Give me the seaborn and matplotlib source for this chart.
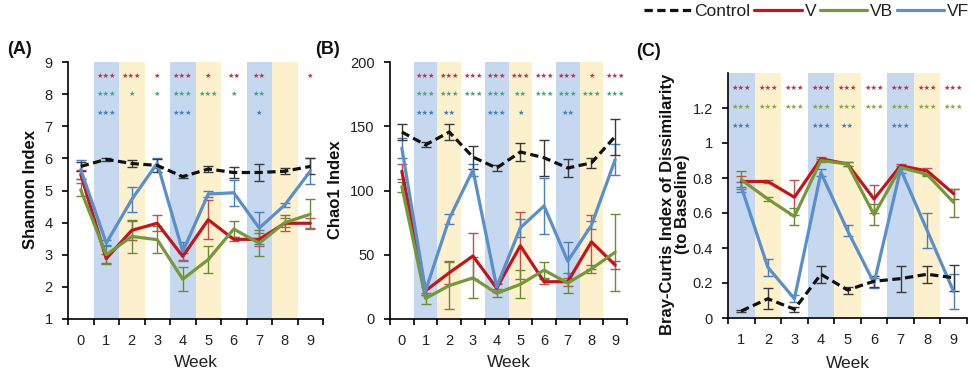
import matplotlib
matplotlib.use("Agg")
import matplotlib.pyplot as plt
from matplotlib.lines import Line2D
import numpy as np
import pandas as pd
import seaborn as sns

# ---------------- data ----------------
weeks_ab = [0, 1, 2, 3, 4, 5, 6, 7, 8, 9]
weeks_c = [1, 2, 3, 4, 5, 6, 7, 8, 9]
series_names = ["Control", "V", "VB", "VF"]

# (A) Shannon index
shannon_control = [5.75, 5.97, 5.84, 5.78, 5.43, 5.67, 5.56, 5.56, 5.60, 5.75]
shannon_control_err = [0.15, 0.05, 0.12, 0.20, 0.05, 0.10, 0.17, 0.25, 0.10, 0.25]
shannon_v = [5.50, 2.88, 3.76, 3.98, 2.95, 4.09, 3.48, 3.48, 3.98, 3.98]
shannon_v_err = [0.15, 0.15, 0.30, 0.25, 0.12, 0.60, 0.06, 0.20, 0.25, 0.15]
shannon_vb = [5.02, 3.00, 3.57, 3.47, 2.24, 2.85, 3.80, 3.36, 4.00, 4.26]
shannon_vb_err = [0.20, 0.30, 0.50, 0.42, 0.38, 0.42, 0.25, 0.40, 0.15, 0.47]
shannon_vf = [5.65, 3.36, 4.72, 5.85, 3.10, 4.89, 4.93, 3.83, 4.55, 5.60]
shannon_vf_err = [0.30, 0.10, 0.40, 0.15, 0.30, 0.10, 0.40, 0.50, 0.05, 0.40]

# (B) Chao1 index
chao_control = [145.5, 135.5, 145.5, 126.0, 117.5, 130.0, 125.5, 117.5, 121.5, 142.0]
chao_control_err = [6, 2, 6, 9, 2, 7, 14, 7, 4, 14]
chao_v = [115, 22, 36, 49, 24, 57, 29, 29, 60, 42]
chao_v_err = [6, 3, 9, 18, 3, 26, 2, 3, 21, 3]
chao_vb = [103, 16, 26, 32, 20, 27, 38, 28, 39, 52]
chao_vb_err = [4, 4, 18, 16, 3, 11, 6, 8, 3, 30]
chao_vf = [133, 22, 78, 116, 25, 71, 88, 45, 73, 124]
chao_vf_err = [8, 3, 4, 5, 3, 7, 22, 15, 3, 12]

# (C) Bray-Curtis dissimilarity to baseline
bc_control = [0.04, 0.11, 0.05, 0.25, 0.16, 0.21, 0.225, 0.25, 0.23]
bc_control_err = [0.005, 0.06, 0.015, 0.05, 0.02, 0.03, 0.075, 0.05, 0.075]
bc_v = [0.78, 0.78, 0.69, 0.91, 0.88, 0.68, 0.87, 0.84, 0.71]
bc_v_err = [0.03, 0.01, 0.10, 0.01, 0.01, 0.08, 0.01, 0.02, 0.03]
bc_vb = [0.79, 0.68, 0.58, 0.90, 0.88, 0.59, 0.86, 0.82, 0.66]
bc_vb_err = [0.05, 0.01, 0.05, 0.01, 0.01, 0.06, 0.01, 0.01, 0.08]
bc_vf = [0.75, 0.29, 0.11, 0.83, 0.50, 0.20, 0.85, 0.50, 0.15]
bc_vf_err = [0.03, 0.05, 0.02, 0.02, 0.03, 0.03, 0.02, 0.10, 0.10]

# significance marks per week (rows: V, VB, VF)
shannon_sig_v = ["", "***", "***", "*", "***", "*", "**", "**", "", "*"]
shannon_sig_vb = ["", "***", "*", "*", "***", "***", "*", "**", "", ""]
shannon_sig_vf = ["", "***", "", "", "***", "", "", "*", "", ""]
chao_sig_v = ["", "***", "***", "***", "***", "***", "***", "***", "*", "***"]
chao_sig_vb = ["", "***", "***", "***", "***", "**", "***", "***", "***", "***"]
chao_sig_vf = ["", "***", "**", "", "***", "*", "", "**", "", ""]
bc_sig_v = ["***", "***", "***", "***", "***", "***", "***", "***", "***"]
bc_sig_vb = ["***", "***", "***", "***", "***", "***", "***", "***", "***"]
bc_sig_vf = ["***", "", "", "***", "**", "", "***", "", ""]

band_blue_weeks = [1, 4, 7]
band_yellow_weeks = [2, 5, 8]

# ---------------- style ----------------
sns.set_style("white")
plt.rcParams["font.family"] = ["Liberation Sans", "DejaVu Sans"]

C_CTRL = "#111111"
C_V = "#c0161e"
C_VB = "#77973a"
C_VF = "#5b8fcb"
E_CTRL = "#3a3a3a"
E_V = "#c0504d"
E_VB = "#6a8a36"
E_VF = "#4a7ebf"
BAND_BLUE = "#c6d8ef"
BAND_YEL = "#fdf0cc"
S_RED = "#b8334f"
S_GRN_AB = "#3aa886"
S_GRN_C = "#86a846"
S_BLU = "#3d7fc0"

W, H = 971, 373
fig = plt.figure(figsize=(W / 100, H / 100), dpi=100)


def rect(l, r, t, b):
    return [l / W, 1 - b / H, (r - l) / W, (b - t) / H]


axA = fig.add_axes(rect(68, 323, 62, 319))
axB = fig.add_axes(rect(390, 627, 62, 319))
axC = fig.add_axes(rect(728, 967, 73, 318))


def draw_panel(ax, weeks, data, sig, sig_y, green_star, ylim, yticks, yticklabels):
    x0, x1 = weeks[0] - 0.5, weeks[-1] + 0.5
    for w in band_blue_weeks:
        ax.axvspan(w - 0.5, w + 0.5, color=BAND_BLUE, lw=0, zorder=0)
    for w in band_yellow_weeks:
        ax.axvspan(w - 0.5, w + 0.5, color=BAND_YEL, lw=0, zorder=0)

    styles = {
        "V": (C_V, E_V, "-"),
        "VB": (C_VB, E_VB, "-"),
        "VF": (C_VF, E_VF, "-"),
        "Control": (C_CTRL, E_CTRL, "--"),
    }
    for name in ["V", "VB", "VF", "Control"]:
        vals, errs = data[name]
        col, ecol, ls = styles[name]
        ax.errorbar(weeks, vals, yerr=errs, fmt="none", ecolor=ecol,
                    elinewidth=1.0, capsize=3.5, capthick=1.0, zorder=3)
        df = pd.DataFrame({"week": weeks, "value": vals})
        sns.lineplot(data=df, x="week", y="value", ax=ax, color=col,
                     linewidth=2.3, zorder=4, legend=False)
        line = ax.lines[-1]
        if ls == "--":
            line.set_dashes((2.6, 1.4))
            line.set_dash_capstyle("butt")

    star_cols = [S_RED, green_star, S_BLU]
    for row, yy, col in zip(sig, sig_y, star_cols):
        for w, s in zip(weeks, row):
            if s:
                ax.text(w, yy, "\u2605" * len(s), color=col, fontsize=5.2,
                        ha="center", va="center", family="DejaVu Sans", zorder=5)

    ax.set_xlim(x0, x1)
    ax.set_ylim(*ylim)
    ax.set_xticks(weeks)
    ax.set_xticklabels([str(w) for w in weeks])
    ax.set_xticks(np.arange(x0, x1 + 0.01, 1.0), minor=True)
    ax.tick_params(axis="x", which="major", length=0, pad=11, labelsize=10.5,
                   labelcolor="#222222")
    ax.tick_params(axis="x", which="minor", length=4.5, width=1.2,
                   direction="out", color="black", bottom=True)
    ax.set_yticks(yticks)
    ax.set_yticklabels(yticklabels)
    ax.tick_params(axis="y", which="major", length=4, width=1.2, pad=7,
                   direction="out", color="black", labelsize=10.5, left=True,
                   labelcolor="#222222")
    for side in ["top", "right"]:
        ax.spines[side].set_visible(False)
    for side in ["left", "bottom"]:
        ax.spines[side].set_color("black")
        ax.spines[side].set_linewidth(1.2)
    ax.set_facecolor("white")


draw_panel(
    axA, weeks_ab,
    {"Control": (shannon_control, shannon_control_err), "V": (shannon_v, shannon_v_err),
     "VB": (shannon_vb, shannon_vb_err), "VF": (shannon_vf, shannon_vf_err)},
    [shannon_sig_v, shannon_sig_vb, shannon_sig_vf], [8.57, 8.0, 7.42], S_GRN_AB,
    (1, 9), [1, 2, 3, 4, 5, 6, 7, 8, 9], ["1", "2", "3", "4", "5", "6", "7", "8", "9"])
draw_panel(
    axB, weeks_ab,
    {"Control": (chao_control, chao_control_err), "V": (chao_v, chao_v_err),
     "VB": (chao_vb, chao_vb_err), "VF": (chao_vf, chao_vf_err)},
    [chao_sig_v, chao_sig_vb, chao_sig_vf], [189.3, 175.0, 160.3], S_GRN_AB,
    (0, 200), [0, 50, 100, 150, 200], ["0", "50", "100", "150", "200"])
draw_panel(
    axC, weeks_c,
    {"Control": (bc_control, bc_control_err), "V": (bc_v, bc_v_err),
     "VB": (bc_vb, bc_vb_err), "VF": (bc_vf, bc_vf_err)},
    [bc_sig_v, bc_sig_vb, bc_sig_vf], [1.317, 1.206, 1.10], S_GRN_C,
    (0, 1.4), [0, 0.2, 0.4, 0.6, 0.8, 1.0, 1.2], ["0", "0.2", "0.4", "0.6", "0.8", "1", "1.2"])

# axis labels
for ax, lab, xc, yc in [
    (axA, "Shannon Index", -0.149, 0.502),
    (axB, "Chao1 Index", -0.232, 0.502),
    (axC, "Bray-Curtis Index of Dissimilarity\n(to Baseline)", -0.222, 0.465),
]:
    ax.set_ylabel(lab, fontsize=12, fontweight="bold", color="#111111",
                  linespacing=1.05)
    ax.yaxis.set_label_coords(xc, yc)
    ax.yaxis.label.set_verticalalignment("center")
    ax.yaxis.label.set_horizontalalignment("center")

for ax, yc in [(axA, -0.171), (axB, -0.171), (axC, -0.184)]:
    ax.set_xlabel("Week", fontsize=12.5, color="#222222")
    ax.xaxis.set_label_coords(0.5, yc)
    ax.xaxis.label.set_verticalalignment("center")

# panel letters
for lab, xp, yp in [("(A)", 7, 50), ("(B)", 315, 50), ("(C)", 636, 51)]:
    fig.text(xp / W, 1 - yp / H, lab, fontsize=13, fontweight="bold",
             ha="left", va="center", color="#111111")

# legend
handles = [
    Line2D([], [], color=C_CTRL, lw=2.3, dashes=(2.6, 1.4)),
    Line2D([], [], color=C_V, lw=2.3),
    Line2D([], [], color=C_VB, lw=2.3),
    Line2D([], [], color=C_VF, lw=2.3),
]
fig.legend(handles, series_names, loc="upper right",
           bbox_to_anchor=(969 / W, 1 - 4 / H), ncol=4, frameon=False,
           fontsize=12.5, handlelength=2.75, handletextpad=0.15,
           columnspacing=0.2, borderpad=0, borderaxespad=0,
           labelcolor="#222222")

fig.savefig("out.png", dpi=100)
